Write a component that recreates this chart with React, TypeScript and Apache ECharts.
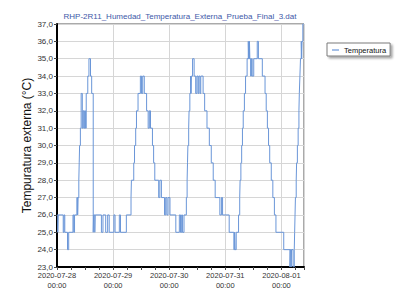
import React, { useEffect, useRef } from "react";
import * as echarts from "echarts";

const chartTitle = "RHP-2R11_Humedad_Temperatura_Externa_Prueba_Final_3.dat";
const yAxisTitle = "Tempuratura externa (°C)";
const seriesName = "Temperatura";

const axisStart = "2020-07-28 00:00";
const axisEnd = "2020-08-01 09:40";
const yMin = 23;
const yMax = 37;

const times: string[] = [
  "2020-07-28 00:00", "2020-07-28 00:20", "2020-07-28 00:30", "2020-07-28 02:40", "2020-07-28 03:00",
  "2020-07-28 03:20", "2020-07-28 04:30", "2020-07-28 05:00", "2020-07-28 06:50", "2020-07-28 07:10",
  "2020-07-28 07:30", "2020-07-28 08:30", "2020-07-28 08:50", "2020-07-28 09:00", "2020-07-28 09:20",
  "2020-07-28 09:30", "2020-07-28 09:40", "2020-07-28 10:00", "2020-07-28 10:20", "2020-07-28 10:50",
  "2020-07-28 11:10", "2020-07-28 11:30", "2020-07-28 11:50", "2020-07-28 12:10", "2020-07-28 12:30",
  "2020-07-28 13:10", "2020-07-28 13:40", "2020-07-28 14:20", "2020-07-28 14:50", "2020-07-28 15:30",
  "2020-07-28 15:40", "2020-07-28 16:10", "2020-07-28 16:20", "2020-07-28 19:00", "2020-07-28 19:40",
  "2020-07-28 20:50", "2020-07-28 21:40", "2020-07-28 22:20",
  "2020-07-29 00:20", "2020-07-29 00:50", "2020-07-29 02:40", "2020-07-29 03:10", "2020-07-29 05:40",
  "2020-07-29 07:40", "2020-07-29 07:50", "2020-07-29 08:50", "2020-07-29 09:10", "2020-07-29 09:40",
  "2020-07-29 10:00", "2020-07-29 10:40", "2020-07-29 11:40", "2020-07-29 12:10", "2020-07-29 12:40",
  "2020-07-29 13:20", "2020-07-29 14:20", "2020-07-29 15:00", "2020-07-29 15:30", "2020-07-29 16:00",
  "2020-07-29 16:50", "2020-07-29 17:20", "2020-07-29 17:50", "2020-07-29 19:30", "2020-07-29 20:00",
  "2020-07-29 20:40", "2020-07-29 22:00", "2020-07-29 22:30", "2020-07-29 23:00", "2020-07-29 23:30",
  "2020-07-30 00:20", "2020-07-30 02:50", "2020-07-30 04:20", "2020-07-30 04:50", "2020-07-30 05:20",
  "2020-07-30 05:40", "2020-07-30 06:20", "2020-07-30 07:20", "2020-07-30 07:40", "2020-07-30 07:50",
  "2020-07-30 08:00", "2020-07-30 08:20", "2020-07-30 08:30", "2020-07-30 08:50", "2020-07-30 09:10",
  "2020-07-30 09:20", "2020-07-30 09:30", "2020-07-30 10:00", "2020-07-30 10:40", "2020-07-30 11:20",
  "2020-07-30 11:50", "2020-07-30 12:20", "2020-07-30 12:40", "2020-07-30 13:10", "2020-07-30 13:30",
  "2020-07-30 14:30", "2020-07-30 15:10", "2020-07-30 16:10", "2020-07-30 17:10", "2020-07-30 18:00",
  "2020-07-30 18:50", "2020-07-30 19:40", "2020-07-30 21:40", "2020-07-30 22:20", "2020-07-30 22:50",
  "2020-07-31 01:40", "2020-07-31 03:40", "2020-07-31 04:00", "2020-07-31 04:10", "2020-07-31 04:40",
  "2020-07-31 05:40", "2020-07-31 06:10", "2020-07-31 06:20", "2020-07-31 06:40", "2020-07-31 07:00",
  "2020-07-31 07:20", "2020-07-31 07:40", "2020-07-31 08:10", "2020-07-31 08:40", "2020-07-31 09:20",
  "2020-07-31 09:50", "2020-07-31 10:00", "2020-07-31 10:20", "2020-07-31 10:30", "2020-07-31 10:50",
  "2020-07-31 11:10", "2020-07-31 11:30", "2020-07-31 12:10", "2020-07-31 13:40", "2020-07-31 14:10",
  "2020-07-31 15:50", "2020-07-31 17:00", "2020-07-31 17:30", "2020-07-31 18:00", "2020-07-31 18:30",
  "2020-07-31 19:00", "2020-07-31 19:40", "2020-07-31 20:20", "2020-07-31 21:00", "2020-07-31 21:40",
  "2020-08-01 01:00", "2020-08-01 03:40", "2020-08-01 03:50", "2020-08-01 04:10", "2020-08-01 04:20",
  "2020-08-01 05:00", "2020-08-01 05:30", "2020-08-01 05:40", "2020-08-01 05:50", "2020-08-01 06:00",
  "2020-08-01 06:20", "2020-08-01 06:30", "2020-08-01 06:50", "2020-08-01 07:10", "2020-08-01 07:30",
  "2020-08-01 07:40", "2020-08-01 07:55", "2020-08-01 08:10", "2020-08-01 08:30", "2020-08-01 08:40",
  "2020-08-01 08:50", "2020-08-01 09:10", "2020-08-01 09:40",
];

const temps: number[] = [
  26, 25, 26, 25, 26,
  25, 24, 25, 26, 25,
  26, 27, 26, 27, 28,
  29, 30, 31, 33, 31,
  32, 31, 32, 31, 33,
  34, 35, 34, 33, 25,
  26, 25, 26, 25, 26,
  25, 26, 25,
  26, 25, 26, 25, 26,
  27, 28, 29, 30, 31,
  32, 33, 34, 33, 34,
  33, 32, 31, 32, 31,
  30, 29, 28, 27, 28,
  27, 26, 27, 26, 27,
  26, 25, 26, 25, 26,
  25, 26, 27, 28, 29,
  30, 31, 32, 33, 34,
  33, 34, 35, 34, 33,
  34, 33, 34, 33, 34,
  33, 32, 31, 30, 29,
  28, 27, 26, 27, 26,
  25, 24, 25, 24, 25,
  26, 27, 28, 29, 30,
  31, 32, 33, 34, 35,
  36, 35, 36, 35, 34,
  35, 34, 35, 36, 35,
  34, 33, 32, 31, 30,
  29, 28, 27, 26, 25,
  24, 23, 24, 23, 24,
  23, 24, 25, 26, 27,
  28, 29, 30, 31, 32,
  33, 34, 35, 36, 35,
  36, 37, 37,
];

const FONT = "'Liberation Sans', Arial, sans-serif";
const DAY = 86400000;

const toMs = (s: string) => Date.parse(s.replace(" ", "T") + ":00Z");

export default function App() {
  const ref = useRef<HTMLDivElement>(null);

  useEffect(() => {
    document.body.style.margin = "0";
    const chart = echarts.init(ref.current!, null, { renderer: "svg" });
    const data = times.map((t, i) => [toMs(t), temps[i]]);
    chart.setOption({
      animation: false,
      backgroundColor: "#ffffff",
      graphic: [
        {
          type: "text",
          x: 180,
          y: 16,
          style: {
            text: chartTitle,
            fill: "#3d58a8",
            font: `8px ${FONT}`,
            align: "center",
            verticalAlign: "middle",
          },
        },
      ],
      legend: {
        show: true,
        left: 327,
        top: 43,
        orient: "vertical",
        data: [{ name: seriesName, icon: "rect" }],
        itemWidth: 7,
        itemHeight: 1.2,
        itemGap: 2,
        padding: [3, 4, 2, 5],
        backgroundColor: "#ffffff",
        borderColor: "#7a7a7a",
        borderWidth: 1,
        borderRadius: 0,
        shadowColor: "rgba(0,0,0,0.35)",
        shadowBlur: 2,
        shadowOffsetX: 2,
        shadowOffsetY: 2,
        textStyle: { fontFamily: FONT, fontSize: 7.5, color: "#111" },
      },
      grid: {
        left: 57,
        right: 96,
        top: 24,
        bottom: 29,
        show: true,
        borderColor: "#555555",
        borderWidth: 1,
        backgroundColor: "transparent",
      },
      xAxis: {
        type: "value",
        min: toMs(axisStart),
        max: toMs(axisEnd),
        interval: DAY,
        axisLine: { show: true, onZero: false, lineStyle: { color: "#000", width: 2 } },
        axisTick: { show: true, length: 3, lineStyle: { color: "#444" } },
        minorTick: { show: true, splitNumber: 4, length: 3, lineStyle: { color: "#444" } },
        splitLine: { show: true, lineStyle: { color: "#d6d6d6", width: 1 } },
        axisLabel: {
          showMaxLabel: false,
          margin: 3,
          fontFamily: FONT,
          fontSize: 7.5,
          lineHeight: 10,
          color: "#333",
          formatter: (v: number) => echarts.time.format(v, "{yyyy}-{MM}-{dd}\n{HH}:{mm}", true),
        },
      },
      yAxis: {
        type: "value",
        min: yMin,
        max: yMax,
        interval: 1,
        name: yAxisTitle,
        nameLocation: "middle",
        nameRotate: 90,
        nameGap: 24,
        nameMoveOverlap: false,
        nameTextStyle: { fontFamily: FONT, fontSize: 12, color: "#111" },
        axisLine: { show: true, lineStyle: { color: "#000", width: 2 } },
        axisTick: { show: true, length: 3, lineStyle: { color: "#444" } },
        splitLine: { show: true, lineStyle: { color: "#d6d6d6", width: 1 } },
        axisLabel: {
          margin: 4,
          fontFamily: FONT,
          fontSize: 8,
          color: "#333",
          formatter: (v: number) => v.toFixed(1).replace(".", ","),
        },
      },
      series: [
        {
          name: seriesName,
          type: "line",
          step: "end",
          data,
          symbol: "none",
          showSymbol: false,
          lineStyle: { color: "#6a96d8", width: 1 },
          itemStyle: { color: "#6a96d8" },
        },
      ],
    });
    return () => chart.dispose();
  }, []);

  return (
    <div
      ref={ref}
      style={{ position: "fixed", left: 0, top: 0, width: 400, height: 296 }}
    />
  );
}
